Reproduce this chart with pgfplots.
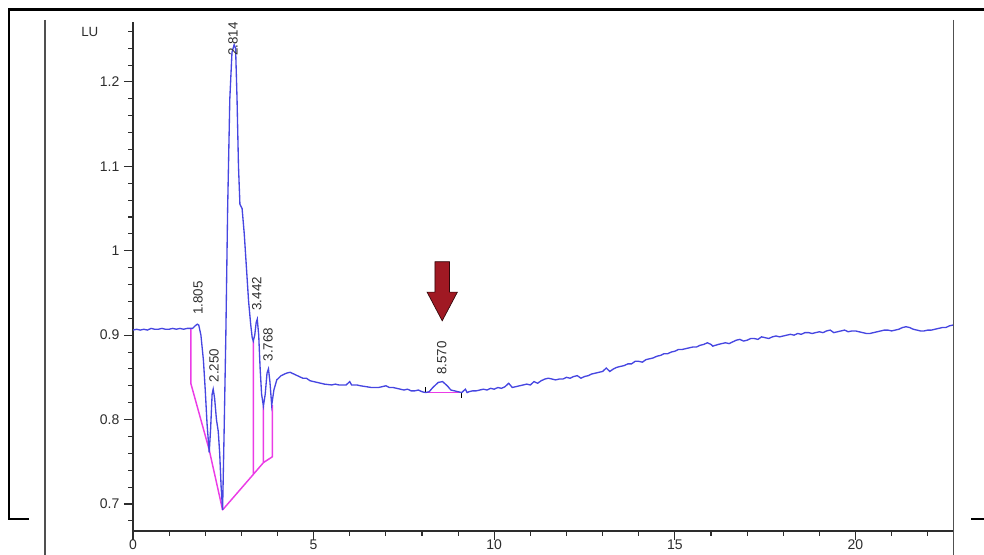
\documentclass[border=0pt]{standalone}
\usepackage{fontspec}
\setmainfont{Liberation Sans}
\usepackage{pgfplots}
\pgfplotsset{compat=1.18}
\definecolor{trace}{RGB}{70,70,225}
\definecolor{basel}{RGB}{235,60,230}
\definecolor{arrowred}{RGB}{160,25,35}
\definecolor{txt}{RGB}{45,45,45}
\definecolor{framegray}{RGB}{80,80,80}
\begin{document}
\begin{tikzpicture}
\useasboundingbox (0,0) rectangle (738pt,416.25pt);
% frame decorations
\draw[line width=2.25pt,black] (6pt,408.75pt) -- (738pt,408.75pt);
\draw[line width=1.5pt,black] (6.75pt,408.75pt) -- (6.75pt,27pt) -- (21.75pt,27pt);
\draw[line width=1.2pt,framegray] (33.75pt,401.25pt) -- (33.75pt,0pt);
\draw[line width=1.2pt,framegray] (715pt,401.25pt) -- (715pt,0pt);
\draw[line width=1.1pt,black] (728.25pt,27pt) -- (738pt,27pt);
\node[anchor=west,inner sep=0pt,text=txt,font=\fontsize{10}{12}\selectfont] at (60.75pt,392.25pt) {LU};
\begin{axis}[
  at={(99.75pt,18pt)}, anchor=south west,
  scale only axis, width=615pt, height=381.75pt,
  xmin=0, xmax=22.7, ymin=0.668, ymax=1.271,
  axis lines=left, axis line style={-, line width=0.9pt, color=txt},
  xtick={0,5,10,15,20}, ytick={0.7,0.8,0.9,1,1.1,1.2},
  minor xtick={1,2,3,4,6,7,8,9,11,12,13,14,16,17,18,19,21,22},
  minor ytick={0.68,0.72,0.74,0.76,0.78,0.82,0.84,0.86,0.88,0.92,0.94,0.96,0.98,1.02,1.04,1.06,1.08,1.12,1.14,1.16,1.18,1.22,1.24,1.26},
  tick align=outside, major tick length=6.75pt, minor tick length=3.5pt,
  tick style={line width=0.8pt, color=txt},
  /pgf/number format/assume math mode=true,
  ticklabel style={font=\fontsize{10.5}{12}\selectfont, text=txt},
  xticklabel style={yshift=3.5pt},
  clip=false,
]
\addplot[basel, line width=1.1pt, line join=round] coordinates {(1.6,0.907) (1.6,0.843) (2.11,0.764) (2.48,0.693) (3.33,0.735) (3.33,0.893) (3.33,0.735) (3.61,0.749) (3.61,0.816) (3.61,0.749) (3.86,0.756) (3.86,0.817)};
\addplot[basel, line width=1.1pt] coordinates {(8.09,0.832) (9.1,0.832)};
\addplot[black, line width=0.6pt] coordinates {(8.09,0.832) (8.09,0.838)};
\addplot[black, line width=0.6pt] coordinates {(9.1,0.832) (9.1,0.826)};
\addplot[trace, line width=1pt] coordinates {
(0,0.906) (0.1,0.907) (0.2,0.906) (0.3,0.907) (0.4,0.906) (0.5,0.908) (0.6,0.907) (0.7,0.907) (0.8,0.908) (0.9,0.907)
(1.0,0.907) (1.1,0.908) (1.2,0.907) (1.3,0.908) (1.4,0.907) (1.5,0.908) (1.6,0.908) (1.65,0.908)
(1.72,0.911) (1.78,0.913) (1.82,0.912) (1.88,0.900) (1.95,0.870) (2.0,0.835) (2.05,0.795) (2.11,0.761)
(2.15,0.790) (2.19,0.830) (2.22,0.836) (2.26,0.825) (2.31,0.800) (2.36,0.786) (2.40,0.760) (2.44,0.720) (2.48,0.693)
(2.52,0.780) (2.57,0.900) (2.62,1.050) (2.68,1.180) (2.74,1.235) (2.80,1.244) (2.84,1.240) (2.88,1.180)
(2.92,1.100) (2.96,1.055) (3.02,1.050) (3.08,1.020) (3.14,0.980) (3.20,0.940) (3.26,0.912) (3.30,0.897) (3.33,0.893)
(3.37,0.900) (3.41,0.915) (3.44,0.919) (3.48,0.900) (3.52,0.860) (3.56,0.830) (3.61,0.816) (3.66,0.830)
(3.71,0.855) (3.75,0.860) (3.79,0.845) (3.84,0.817) (3.90,0.835) (3.98,0.847) (4.1,0.852) (4.25,0.855)
(4.35,0.856) (4.5,0.853) (4.6,0.851) (4.7,0.849) (4.8,0.849) (4.9,0.846) (5.0,0.845) (5.1,0.844) (5.2,0.843) (5.3,0.842)
(5.5,0.841) (5.6,0.842) (5.7,0.841) (5.9,0.841) (6.0,0.845) (6.05,0.841) (6.2,0.841) (6.3,0.840) (6.45,0.839) (6.6,0.838)
(6.8,0.838) (6.9,0.839) (7.0,0.840) (7.1,0.838) (7.2,0.838) (7.3,0.837) (7.4,0.836) (7.5,0.835) (7.6,0.836) (7.7,0.834)
(7.8,0.834) (7.9,0.835) (8.0,0.833) (8.1,0.832) (8.2,0.833) (8.3,0.838) (8.45,0.844) (8.57,0.845)
(8.7,0.840) (8.8,0.835) (8.9,0.834) (9.0,0.833) (9.1,0.832) (9.2,0.836) (9.25,0.832) (9.3,0.833) (9.4,0.834) (9.5,0.834)
(9.6,0.835) (9.7,0.836) (9.8,0.835) (9.9,0.837) (10.0,0.836) (10.1,0.838) (10.2,0.837) (10.3,0.839) (10.4,0.843)
(10.5,0.838) (10.6,0.839) (10.7,0.840) (10.8,0.841) (10.9,0.842) (11.0,0.841) (11.1,0.845) (11.2,0.843)
(11.3,0.846) (11.4,0.848) (11.5,0.849) (11.6,0.848) (11.7,0.847) (11.8,0.848) (11.9,0.848) (12.0,0.850) (12.1,0.849)
(12.2,0.851) (12.3,0.852) (12.4,0.849) (12.5,0.851) (12.6,0.852) (12.7,0.854) (12.8,0.855) (12.9,0.856) (13.0,0.857)
(13.1,0.861) (13.2,0.857) (13.3,0.860) (13.4,0.862) (13.5,0.863) (13.6,0.864) (13.7,0.866) (13.8,0.866) (13.9,0.869)
(14.0,0.869) (14.1,0.868) (14.2,0.871) (14.3,0.872) (14.4,0.873) (14.5,0.875) (14.6,0.876) (14.7,0.878) (14.8,0.878)
(14.9,0.880) (15.0,0.881) (15.1,0.883) (15.2,0.883) (15.3,0.884) (15.4,0.885) (15.5,0.886) (15.6,0.886) (15.7,0.888)
(15.8,0.889) (15.9,0.891) (16.0,0.889) (16.05,0.887) (16.2,0.889) (16.3,0.890) (16.4,0.891) (16.5,0.890) (16.6,0.892)
(16.7,0.894) (16.8,0.895) (16.9,0.893) (17.0,0.894) (17.1,0.896) (17.2,0.896) (17.3,0.895) (17.4,0.898) (17.5,0.897)
(17.6,0.896) (17.7,0.898) (17.8,0.899) (17.9,0.898) (18.0,0.899) (18.1,0.900) (18.2,0.901) (18.3,0.900) (18.4,0.902)
(18.5,0.901) (18.6,0.903) (18.7,0.903) (18.8,0.902) (18.9,0.903) (19.0,0.904) (19.1,0.903) (19.2,0.905) (19.3,0.906)
(19.4,0.903) (19.5,0.904) (19.6,0.905) (19.7,0.906) (19.8,0.904) (19.9,0.905) (20.0,0.905) (20.1,0.904) (20.2,0.903)
(20.3,0.902) (20.4,0.902) (20.5,0.903) (20.6,0.904) (20.7,0.905) (20.8,0.906) (20.9,0.906) (21.0,0.905) (21.1,0.906)
(21.2,0.907) (21.3,0.909) (21.4,0.910) (21.5,0.909) (21.6,0.907) (21.7,0.906) (21.8,0.905) (21.9,0.905) (22.0,0.906)
(22.1,0.906) (22.2,0.907) (22.3,0.908) (22.4,0.909) (22.5,0.909) (22.6,0.911) (22.7,0.912)
};
% peak labels
\begin{scope}[every node/.style={rotate=90, inner sep=0pt, text=txt, font=\fontsize{10}{12}\selectfont}]
\node at (axis cs:1.80,0.944) {1.805};
\node at (axis cs:2.24,0.864) {2.250};
\node at (axis cs:2.77,1.251) {2.814};
\node at (axis cs:3.43,0.949) {3.442};
\node at (axis cs:3.74,0.889) {3.768};
\node at (axis cs:8.55,0.873) {8.570};
\end{scope}
% arrow annotation
\filldraw[fill=arrowred, draw=black!70!arrowred, line width=0.5pt]
 (axis cs:8.36,0.987) -- (axis cs:8.76,0.987) -- (axis cs:8.76,0.951) -- (axis cs:8.98,0.951)
 -- (axis cs:8.56,0.917) -- (axis cs:8.14,0.951) -- (axis cs:8.36,0.951) -- cycle;
\end{axis}
\end{tikzpicture}
\end{document}
